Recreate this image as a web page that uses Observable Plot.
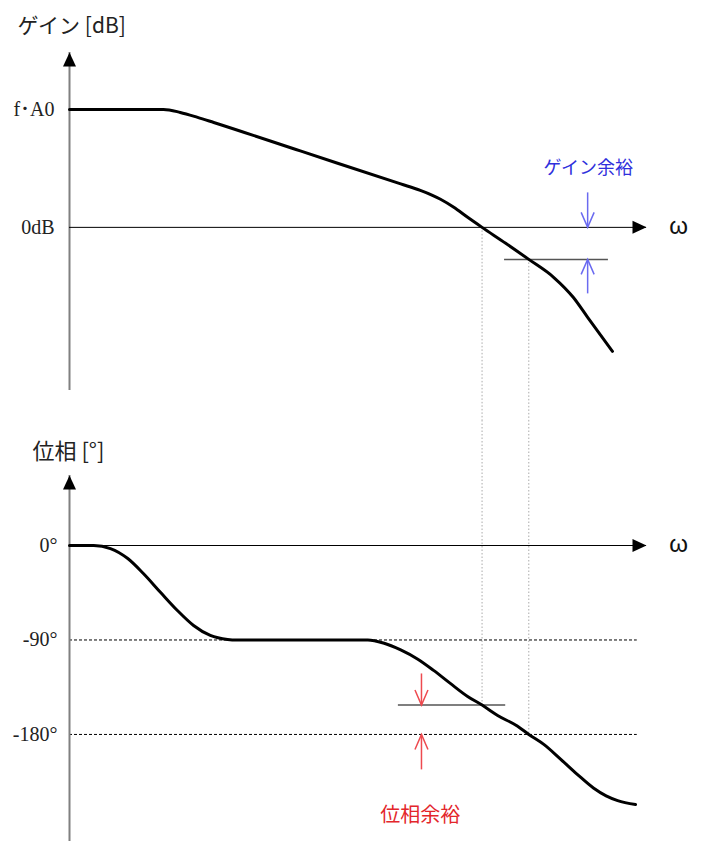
<!DOCTYPE html>
<html><head><meta charset="utf-8">
<script src="https://cdn.jsdelivr.net/npm/d3@7"></script>
<script src="https://cdn.jsdelivr.net/npm/@observablehq/plot@0.6"></script>
<style>
body{margin:0;background:#fff;}
#chart svg{display:block;}
</style>
</head><body><div id="chart"></div>
<script>
// ---------- data (arbitrary ω units, gain in dB, phase in degrees) ----------
const gainOmega = [0, 16.3, 19.2, 22.2, 25.0, 40.0, 57.4, 60.8, 62.9, 64.3, 66.6, 69.0, 71.5, 75.6, 79.6, 83.9, 87.3, 89.8, 94.1];
const gainDb    = [60, 60, 58.5, 56.0, 53.4, 38.9, 22.1, 18.8, 16.3, 14.3, 10.2, 5.1, 0, -8.1, -16.3, -25.4, -35.6, -45.8, -63.1];

const phaseOmega = [0, 4.2, 7.1, 10.1, 12.8, 15.8, 18.7, 21.5, 24.4, 27.4, 29.0, 51.7, 54.4, 57.4, 60.3, 63.1, 66.0, 69.0, 71.5, 74.2, 77.6, 79.6, 82.2, 85.1, 88.0, 90.8, 93.0, 95.0, 98.1];
const phaseDeg   = [0, 0, -2.9, -12.4, -26.7, -44.8, -61.9, -76.2, -85.7, -89.5, -90, -90, -92.9, -99.5, -108.1, -119, -131.4, -143.8, -152, -161.9, -172, -180, -189.5, -203.5, -218, -231, -238.5, -243, -246.7];

const gainTicks = [60, 0];
const gainTickLabels = ["f･A0", "0dB"];
const phaseTicks = [0, -90, -180];
const phaseTickLabels = ["0°", "-90°", "-180°"];
const phaseGuides = [-90, -180];

const gainCrossOmega = 71.5;     // |G| = 0 dB
const phaseCrossOmega = 79.6;    // phase = -180°
const gainAtPhaseCross = -16.3;  // dB
const phaseAtGainCross = -152;   // deg

const gainMarginLine = [{x1: 75.4, x2: 93.4, y: gainAtPhaseCross}];
const phaseMarginLine = [{x1: 57.0, x2: 75.6, y: phaseAtGainCross}];
const gainArrows = [{x: 89.8, from: 17.8, to: 0, dir: "down"}, {x: 89.8, from: -33.6, to: gainAtPhaseCross, dir: "up"}];
const phaseArrows = [{x: 61.0, from: -121.9, to: phaseAtGainCross, dir: "down"}, {x: 61.0, from: -213.3, to: -180, dir: "up"}];
const gainNote = [{x: 89.9, y: 30, text: "ゲイン余裕"}];
const phaseNote = [{x: 60.8, y: -257, text: "位相余裕"}];
const gainTitle = ["ゲイン [dB]"];
const phaseTitle = ["位相 [°]"];

const omegaDomain = [0, 100];
const gainDomain = [-98.3, 89];
const gainAxisBottom = -83;
const phaseDomain = [-282, 119.1];
const phaseAxisTop = 66.7;

// ---------- helpers ----------
const gainData = gainOmega.map((x, i) => ({x, y: gainDb[i]}));
const phaseData = phaseOmega.map((x, i) => ({x, y: phaseDeg[i]}));

const triangle = {draw(ctx) { ctx.moveTo(0, 0); ctx.lineTo(-6.5, 14); ctx.lineTo(6.5, 14); ctx.closePath(); }};
const vHead = {draw(ctx) { ctx.moveTo(-6.5, -15); ctx.lineTo(0, 0); ctx.lineTo(6.5, -15); }};

const sans = "'Noto Sans CJK JP', 'Noto Sans', sans-serif";
const serif = "'Liberation Serif', 'DejaVu Serif', 'Noto Sans CJK JP', serif";
const blueText = "#2f2fdc", blueArrow = "#6a6af0";
const redText = "#e3262b", redArrow = "#ee4a4f";

function axesMarks(yBottom, yTop, ticks, labels, tickPad) {
  return [
    Plot.ruleX([0], {y1: yBottom, y2: yTop, stroke: "#808080", strokeWidth: 2}),
    Plot.ruleY([0], {x1: omegaDomain[0], x2: omegaDomain[1], stroke: "#000", strokeWidth: 1}),
    Plot.dot([0], {x: 0, y: yTop, symbol: triangle, fill: "#000", stroke: "none"}),
    Plot.dot([0], {x: omegaDomain[1], y: 0, symbol: triangle, rotate: 90, fill: "#000", stroke: "none"}),
    Plot.text(["ω"], {x: omegaDomain[1], y: 0, dx: 32, dy: -1, fontSize: 24, fontFamily: "'Liberation Sans', sans-serif", fill: "#111"}),
    Plot.axisY({ticks, tickFormat: d => labels[ticks.indexOf(d)], tickSize: 0, tickPadding: tickPad,
      anchor: "left", label: null, fontSize: 20, fontFamily: serif, fill: "#222"})
  ];
}

function arrowMarks(arr, color) {
  return [
    Plot.link(arr, {x1: "x", x2: "x", y1: "from", y2: "to", stroke: color, strokeWidth: 1.5}),
    Plot.dot(arr, {x: "x", y: "to", symbol: vHead, rotate: d => d.dir === "up" ? 180 : 0, fill: "none", stroke: color, strokeWidth: 1.5})
  ];
}

const common = {width: 703, marginLeft: 69, marginRight: 57, style: {fontFamily: sans, background: "#fff"}};

const gainPlot = Plot.plot({
  ...common,
  height: 420, marginTop: 52, marginBottom: 0,
  x: {domain: omegaDomain, axis: null},
  y: {domain: gainDomain, axis: null},
  marks: [
    Plot.ruleX([gainCrossOmega], {y1: 0, y2: gainDomain[0], stroke: "#aaa", strokeDasharray: "1.5,2"}),
    Plot.ruleX([phaseCrossOmega], {y1: gainAtPhaseCross, y2: gainDomain[0], stroke: "#aaa", strokeDasharray: "1.5,2"}),
    ...axesMarks(gainAxisBottom, gainDomain[1], gainTicks, gainTickLabels, 15),
    Plot.ruleY(gainMarginLine, {x1: "x1", x2: "x2", y: "y", stroke: "#555", strokeWidth: 1.5}),
    Plot.line(gainData, {x: "x", y: "y", stroke: "#000", strokeWidth: 3, curve: "monotone-x"}),
    ...arrowMarks(gainArrows, blueArrow),
    Plot.text(gainNote, {x: "x", y: "y", text: "text", fill: blueText, fontSize: 18, fontFamily: sans}),
    Plot.text(gainTitle, {frameAnchor: "top-left", dx: -52, dy: -26, textAnchor: "start", lineAnchor: "middle", fontSize: 21, fontFamily: sans, fill: "#222"})
  ]
});

const phasePlot = Plot.plot({
  ...common,
  height: 421, marginTop: 0, marginBottom: 0,
  x: {domain: omegaDomain, axis: null},
  y: {domain: phaseDomain, axis: null},
  marks: [
    Plot.ruleX([gainCrossOmega], {y1: phaseDomain[1], y2: phaseAtGainCross, stroke: "#aaa", strokeDasharray: "1.5,2"}),
    Plot.ruleX([phaseCrossOmega], {y1: phaseDomain[1], y2: -180, stroke: "#aaa", strokeDasharray: "1.5,2"}),
    Plot.ruleY(phaseGuides, {x1: 0, x2: 98.4, stroke: "#000", strokeWidth: 1, strokeDasharray: "3,2"}),
    ...axesMarks(phaseDomain[0], phaseAxisTop, phaseTicks, phaseTickLabels, 12),
    Plot.ruleY(phaseMarginLine, {x1: "x1", x2: "x2", y: "y", stroke: "#555", strokeWidth: 1.5}),
    Plot.line(phaseData, {x: "x", y: "y", stroke: "#000", strokeWidth: 3, curve: "monotone-x"}),
    ...arrowMarks(phaseArrows, redArrow),
    Plot.text(phaseNote, {x: "x", y: "y", text: "text", fill: redText, fontSize: 20, fontFamily: sans}),
    Plot.text(phaseTitle, {frameAnchor: "top-left", dx: -37, dy: 31, textAnchor: "start", lineAnchor: "middle", fontSize: 22, fontFamily: sans, fill: "#222"})
  ]
});

const chart = document.getElementById("chart");
chart.append(gainPlot, phasePlot);
</script></body></html>
